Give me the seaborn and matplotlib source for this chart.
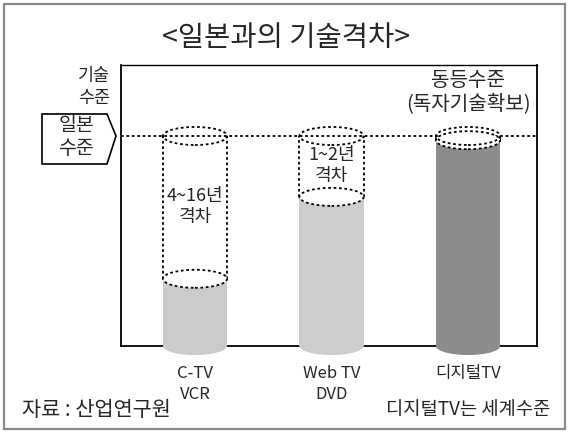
import matplotlib
matplotlib.use("Agg")
import matplotlib.pyplot as plt
from matplotlib.patches import Ellipse, Polygon, Rectangle
import seaborn as sns
import pandas as pd

# ---- data ----
categories = ["C-TV\nVCR", "Web TV\nDVD", "디지털TV"]
korea_level = [32, 71, 98]          # Korean technology level (Japan = 100)
japan_level = [100, 100, 100]        # Japanese technology level
gap_labels = ["4~16년\n격차", "1~2년\n격차", None]
title = "<일본과의 기술격차>"

sns.set_style("white")
plt.rcParams['font.family'] = ['Noto Sans CJK KR', 'DejaVu Sans']

W, H = 569, 435
fig = plt.figure(figsize=(W / 100, H / 100), dpi=100)
ax = fig.add_axes([121 / W, 1 - 347 / H, 416 / W, 281 / H])

fill_colors = ["#cbcbcb", "#cdcdcd", "#8c8c8c"]
top_colors = ["white", "white", "#d8d8d8"]

df = pd.DataFrame({"cat": categories, "korea": korea_level, "japan": japan_level})
sns.barplot(data=df, x="cat", y="korea", hue="cat", palette=fill_colors,
            width=0.47, legend=False, ax=ax, saturation=1,
            edgecolor="none", linewidth=0, zorder=3)

ax.set_ylim(0, 133.8)
ax.set_xlim(-0.542, 2.505)
ax.set_xlabel("")
ax.set_ylabel("")
ax.set_yticks([])
for s in ax.spines.values():
    s.set_visible(True)
    s.set_color("black")
    s.set_linewidth(1.3)
ax.spines["top"].set_linewidth(1.0)
ax.tick_params(axis="x", length=0, pad=13, labelsize=12)
for lab in ax.get_xticklabels():
    lab.set_linespacing(1.3)

ell_h = 8.6
dot = (0, (1.5, 1.5))
bars = sorted(ax.patches, key=lambda p: p.get_x())
for i, b in enumerate(bars):
    x0, w = b.get_x(), b.get_width()
    xc = x0 + w / 2
    k = korea_level[i]
    j = japan_level[i]
    col = fill_colors[i]
    # bottom rounded edge
    ax.add_patch(Ellipse((xc, 0), w, ell_h, facecolor=col, edgecolor="none",
                         zorder=2.9, clip_on=False))
    if k < j:
        # dotted outline of the gap part
        ax.vlines([x0, x0 + w], k, j, colors="black", linestyles=dot,
                  linewidth=1.3, zorder=4)
        ax.add_patch(Ellipse((xc, k), w, ell_h, facecolor="white", edgecolor="black",
                             linestyle=dot, linewidth=1.3, zorder=4))
        ax.add_patch(Ellipse((xc, j), w, ell_h, facecolor="none", edgecolor="black",
                             linestyle=dot, linewidth=1.3, zorder=4))
    else:
        ax.add_patch(Ellipse((xc, k), w, ell_h, facecolor=top_colors[i],
                             edgecolor="none", zorder=4))
    if gap_labels[i]:
        ax.text(xc, (k + j) / 2 + 1, gap_labels[i], ha="center", va="center",
                fontsize=13, linespacing=1.2, zorder=5)

# Japan level dotted line
ax.axhline(japan_level[0], color="black", linestyle=dot,
           linewidth=1.3, zorder=1)

# equal level annotation
ax.text(2, japan_level[2] + 21, "동등수준\n(독자기술확보)", ha="center", va="center",
        fontsize=14.5, linespacing=1.2)

# title
fig.text(286 / W, 1 - 38 / H, title, ha="center", va="center", fontsize=20.5)

# y axis label
fig.text(110 / W, 1 - 87 / H, "기술\n수준", ha="right", va="center",
         fontsize=12.5, linespacing=1.3)

# pentagon marker for Japan level
fig.canvas.draw()
ty = ax.transData.transform((0, japan_level[0]))[1]  # display pixels
ty_f = ty / H
pts = [(42, 115), (107, 115), (116, 137), (107, 165), (42, 165)]
poly_pts = [(px / W, ty_f + (137 - py) / H) for px, py in pts]
fig.patches.append(Polygon(poly_pts, closed=True, transform=fig.transFigure,
                           facecolor="white", edgecolor="black", linewidth=1.2))
fig.text(76 / W, ty_f, "일본\n수준", ha="center", va="center", fontsize=14,
         linespacing=1.15)

# footer texts
fig.text(22 / W, 1 - 410 / H, "자료 : 산업연구원", ha="left", va="center",
         fontsize=15)
fig.text(550 / W, 1 - 410 / H, "디지털TV는 세계수준", ha="right", va="center",
         fontsize=13.5)

# outer frame
fig.patches.append(Rectangle((4 / W, 5 / H), 561 / W, 425 / H,
                             transform=fig.transFigure, fill=False,
                             edgecolor="#8a8a8a", linewidth=1.6))

fig.savefig("out.png", dpi=100)
